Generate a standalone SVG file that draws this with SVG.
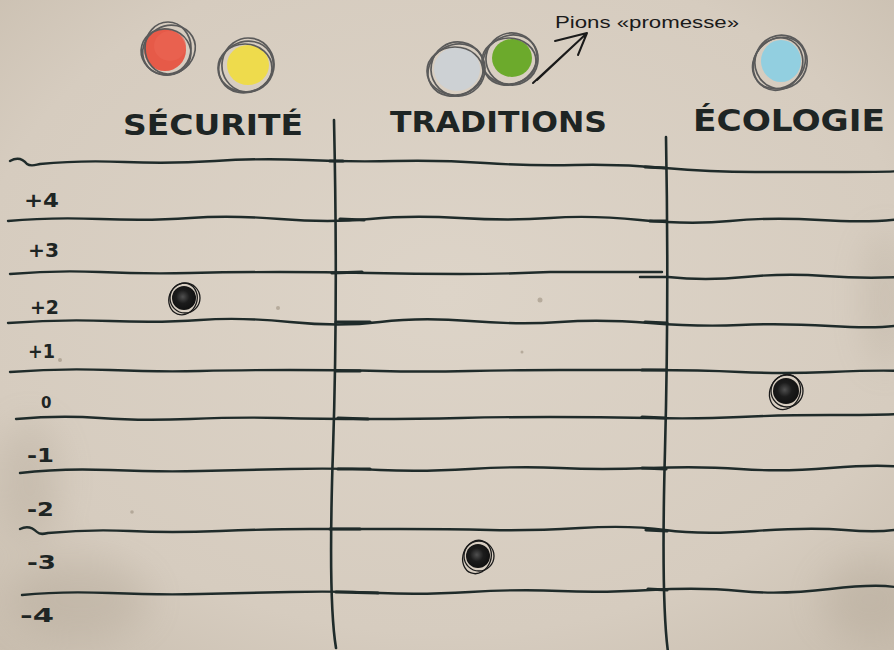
<svg xmlns="http://www.w3.org/2000/svg" width="894" height="650" viewBox="0 0 894 650">
<defs>
<radialGradient id="paper" cx="50%" cy="45%" r="75%">
<stop offset="0" stop-color="#ddd4c8"/>
<stop offset="0.7" stop-color="#d6ccbf"/>
<stop offset="1" stop-color="#c8bdae"/>
</radialGradient>
<radialGradient id="dotg" cx="45%" cy="45%" r="55%">
<stop offset="0" stop-color="#505050"/>
<stop offset="0.5" stop-color="#1c1c1c"/>
<stop offset="1" stop-color="#111"/>
</radialGradient>
<filter id="blur" x="-50%" y="-50%" width="200%" height="200%"><feGaussianBlur stdDeviation="18"/></filter>
<style>
.ln{fill:none;stroke:#1f2b2a;stroke-width:2.4;stroke-linecap:round;stroke-linejoin:round}
.vt{fill:none;stroke:#1f2b2a;stroke-width:2.6;stroke-linecap:round}
.tk{fill:none;stroke:#1f2b2a;stroke-width:3.2;stroke-linecap:round}
.hd{font-family:"DejaVu Sans","Liberation Sans",sans-serif;font-weight:bold;fill:#1e2524}
.num{font-family:"DejaVu Sans","Liberation Sans",sans-serif;font-weight:bold;fill:#1e2524;font-size:19px}
.note{font-family:"Liberation Sans","DejaVu Sans",sans-serif;fill:#1a1a1a;font-size:16px}
.ring{fill:none;stroke:#5a5a5a;stroke-width:1.7}
.dring{fill:none;stroke:#1a1a1a;stroke-width:1.3}
</style>
</defs>
<rect width="894" height="650" fill="url(#paper)"/>
<g opacity="0.18" fill="#8f8270" filter="url(#blur)">
<ellipse cx="80" cy="600" rx="70" ry="40"/>
<ellipse cx="30" cy="480" rx="30" ry="60"/>
<ellipse cx="870" cy="600" rx="50" ry="40"/>
<ellipse cx="885" cy="300" rx="20" ry="70"/>
</g>
<g fill="#8a7c6a" opacity="0.45">
<circle cx="278" cy="308" r="2"/>
<circle cx="540" cy="300" r="2.5"/>
<circle cx="132" cy="512" r="1.8"/>
<circle cx="60" cy="360" r="2"/>
<circle cx="522" cy="352" r="1.5"/>
</g>

<g id="grid-lines">
<path class="ln" d="M10,161 C17,157 23,159 27,164 C31,167 35,165 40,164 Q80,160 125,162 T215,161 T305,160 T395,161 T485,163 T575,165 T665,168 T755,172 T845,172 T900,171"/>
<path class="ln" d="M8,221 Q50,217 100,219 T190,218 T280,219 T370,219 T460,218 T550,218 T640,220 T730,221 T820,220 T900,219"/>
<path class="ln" d="M10,274 Q55,270 100,272 T190,273 T280,272 T370,273 T460,274 T550,272 L662,272"/>
<path class="ln" d="M640,277 L668,277 Q705,281 745,277 T825,276 T900,277"/>
<path class="ln" d="M8,323 Q60,319 110,321 T200,320 T290,322 T380,322 T470,321 T560,322 T650,323 T740,325 T830,326 T900,325"/>
<path class="ln" d="M10,372 Q60,368 110,370 T200,371 T290,370 T380,371 T470,371 T560,370 T650,370 T740,372 T830,372 T900,371"/>
<path class="ln" d="M16,419 Q60,415 100,418 T190,419 T280,418 T370,419 T460,418 T550,417 T650,418 T740,417 T830,415 T900,414"/>
<path class="ln" d="M20,473 Q60,468 110,470 T200,471 T290,469 T380,470 T470,469 T560,468 T650,468 T740,469 T830,468 T900,467"/>
<path class="ln" d="M20,529 C26,526 32,527 37,532 C40,535 44,534 48,533 Q90,529 130,531 T220,531 T310,529 T400,529 T490,530 T580,528 T665,530 T755,531 T845,530 T900,529"/>
<path class="ln" d="M22,595 Q60,591 110,593 T200,594 T290,592 T380,593 T470,592 T560,591 T650,590 T740,591 T830,589 T900,588"/>
<path class="vt" d="M334,120 Q338,300 333,450 T336,648"/>
<path class="vt" d="M666,137 Q669,300 665,450 T668,652"/>
<path class="tk" d="M330,161 L343,161 M340,219 L364,220 M332,273 L362,272 M336,322 L370,322 M336,371 L360,371 M338,418 L368,419 M338,469 L370,469 M330,529 L360,529 M336,592 L378,593"/>
<path class="tk" d="M645,167 L666,168 M650,221 L666,221 M645,322 L667,323 M642,370 L666,370 M642,417 L666,418 M642,468 L666,469 M646,530 L667,531 M648,589 L667,590"/>
</g>

<g id="scale-labels">
<text class="num" x="24" y="207" textLength="35" lengthAdjust="spacingAndGlyphs">+4</text>
<text class="num" x="28" y="257" textLength="31" lengthAdjust="spacingAndGlyphs">+3</text>
<text class="num" x="30" y="314" textLength="29" lengthAdjust="spacingAndGlyphs">+2</text>
<text class="num" x="28" y="358" textLength="27" lengthAdjust="spacingAndGlyphs">+1</text>
<text class="num" x="41" y="408" style="font-size:15px">0</text>
<text class="num" x="27" y="462" textLength="27" lengthAdjust="spacingAndGlyphs">-1</text>
<text class="num" x="27" y="516" textLength="27" lengthAdjust="spacingAndGlyphs">-2</text>
<text class="num" x="27" y="569" textLength="29" lengthAdjust="spacingAndGlyphs">-3</text>
<text class="num" x="20" y="622" textLength="34" lengthAdjust="spacingAndGlyphs">-4</text>
</g>

<g id="col-securite">
<text class="hd" x="123" y="135" font-size="29" textLength="180" lengthAdjust="spacingAndGlyphs">SÉCURITÉ</text>
<g id="pion-rouge">
<ellipse cx="165" cy="50" rx="21" ry="21" fill="#e65a48"/>
<ellipse cx="170" cy="46" rx="16" ry="15" fill="#ea6452" opacity="0.7"/>
<ellipse class="ring" cx="169" cy="50" rx="27" ry="24" transform="rotate(-30 169 50)"/>
<ellipse class="ring" cx="166" cy="52" rx="25" ry="23" transform="rotate(15 166 52)"/>
<ellipse class="ring" cx="168" cy="48" rx="23" ry="26"/>
</g>
<g id="pion-jaune">
<ellipse cx="248" cy="65" rx="21" ry="20" fill="#eedb4c"/>
<ellipse class="ring" cx="246" cy="67" rx="28" ry="25" transform="rotate(-30 246 67)"/>
<ellipse class="ring" cx="248" cy="65" rx="26" ry="27" transform="rotate(10 248 65)"/>
<ellipse class="ring" cx="245" cy="68" rx="27" ry="24"/>
</g>
<g id="pion-securite">
<circle cx="184" cy="298" r="12" fill="url(#dotg)"/>
<circle class="dring" cx="185" cy="298" r="15"/>
<ellipse class="dring" cx="183" cy="299" rx="14" ry="16" transform="rotate(20 183 299)"/>
</g>
</g>

<g id="col-traditions">
<text class="hd" x="390" y="132" font-size="29" textLength="217" lengthAdjust="spacingAndGlyphs">TRADITIONS</text>
<g id="pion-gris">
<ellipse cx="457" cy="69" rx="23" ry="22" fill="#cdd1d4"/>
<ellipse class="ring" cx="456" cy="70" rx="29" ry="25" transform="rotate(-30 456 70)"/>
<ellipse class="ring" cx="458" cy="69" rx="27" ry="27" transform="rotate(10 458 69)"/>
<ellipse class="ring" cx="455" cy="71" rx="28" ry="24"/>
</g>
<g id="pion-vert">
<ellipse cx="512" cy="58" rx="20" ry="19" fill="#6caa2c"/>
<ellipse class="ring" cx="510" cy="60" rx="28" ry="24" transform="rotate(-30 510 60)"/>
<ellipse class="ring" cx="512" cy="59" rx="26" ry="26" transform="rotate(10 512 59)"/>
<ellipse class="ring" cx="509" cy="61" rx="27" ry="23"/>
</g>
<g id="pion-traditions">
<circle cx="478" cy="556" r="12" fill="url(#dotg)"/>
<circle class="dring" cx="479" cy="556" r="15"/>
<ellipse class="dring" cx="477" cy="557" rx="14" ry="17" transform="rotate(20 477 557)"/>
</g>
</g>

<g id="col-ecologie">
<text class="hd" x="693" y="131" font-size="31" textLength="192" lengthAdjust="spacingAndGlyphs">ÉCOLOGIE</text>
<g id="pion-bleu">
<ellipse cx="781" cy="61" rx="20" ry="21" fill="#92cfe0"/>
<ellipse class="ring" cx="779" cy="63" rx="28" ry="24" transform="rotate(-40 779 63)"/>
<ellipse class="ring" cx="781" cy="62" rx="26" ry="27" transform="rotate(20 781 62)"/>
<ellipse class="ring" cx="778" cy="64" rx="27" ry="24" transform="rotate(-60 778 64)"/>
</g>
<g id="pion-ecologie">
<circle cx="786" cy="391" r="13" fill="url(#dotg)"/>
<circle class="dring" cx="787" cy="391" r="16"/>
<ellipse class="dring" cx="785" cy="392" rx="15" ry="18" transform="rotate(25 785 392)"/>
</g>
</g>

<g id="annotation">
<path d="M533,83 L585,35 M537,80 L587,33 M555,41 L587,33 L578,55" fill="none" stroke="#1a1a1a" stroke-width="2" stroke-linecap="round" stroke-linejoin="round"/>
<text class="note" x="555" y="28" textLength="184" lengthAdjust="spacingAndGlyphs">Pions «promesse»</text>
</g>
</svg>
